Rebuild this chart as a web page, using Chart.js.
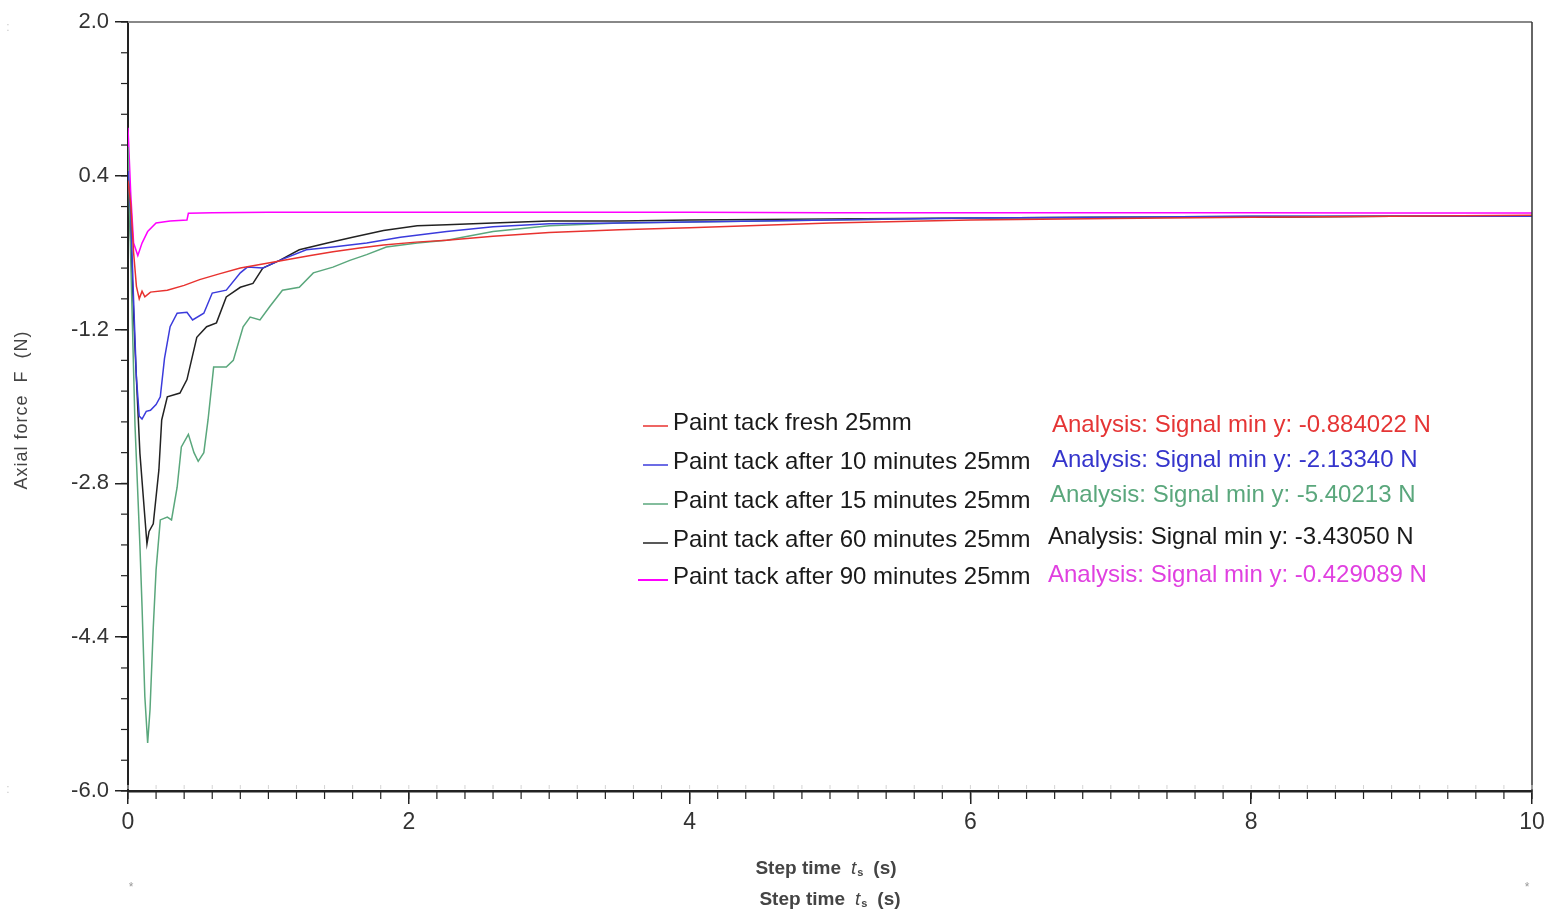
<!DOCTYPE html>
<html>
<head>
<meta charset="utf-8">
<script src="https://cdn.jsdelivr.net/npm/chart.js@4.4.1/dist/chart.umd.min.js"></script>
<style>
html,body{margin:0;padding:0;background:#fff;}
#wrap{width:1558px;height:913px;}
</style>
</head>
<body>
<div id="wrap"><canvas id="c" width="1558" height="913"></canvas></div>
<script>
// ---- data ----
const seriesLabels = [
  'Paint tack fresh 25mm',
  'Paint tack after 10 minutes 25mm',
  'Paint tack after 15 minutes 25mm',
  'Paint tack after 60 minutes 25mm',
  'Paint tack after 90 minutes 25mm'
];
const analysisLabels = [
  'Analysis: Signal min y: -0.884022 N',
  'Analysis: Signal min y: -2.13340 N',
  'Analysis: Signal min y: -5.40213 N',
  'Analysis: Signal min y: -3.43050 N',
  'Analysis: Signal min y: -0.429089 N'
];

const timeFresh  = [0, 0.02, 0.04, 0.06, 0.08, 0.1, 0.12, 0.16, 0.28, 0.4, 0.51, 0.65, 0.8, 0.95, 1.1, 1.3, 1.46, 1.65, 1.82, 2.05, 2.27, 2.6, 3.0, 3.5, 4.0, 5.0, 6.0, 7.0, 8.0, 9.0, 10.0];
const forceFresh = [0.35, 0.1, -0.4, -0.75, -0.88, -0.8, -0.86, -0.81, -0.79, -0.74, -0.68, -0.62, -0.56, -0.52, -0.48, -0.43, -0.39, -0.35, -0.32, -0.29, -0.27, -0.23, -0.19, -0.16, -0.14, -0.09, -0.06, -0.045, -0.03, -0.02, -0.01];

const time10  = [0, 0.02, 0.04, 0.06, 0.08, 0.1, 0.13, 0.16, 0.2, 0.23, 0.26, 0.3, 0.35, 0.42, 0.46, 0.54, 0.6, 0.7, 0.8, 0.85, 0.96, 1.08, 1.27, 1.46, 1.7, 1.94, 2.27, 2.6, 3.0, 3.5, 4.0, 5.0, 6.0, 7.0, 8.0, 9.0, 10.0];
const force10 = [0.45, 0.0, -0.9, -1.7, -2.1, -2.13, -2.05, -2.04, -1.98, -1.9, -1.5, -1.17, -1.03, -1.02, -1.10, -1.03, -0.82, -0.79, -0.61, -0.55, -0.56, -0.48, -0.37, -0.34, -0.30, -0.24, -0.18, -0.13, -0.10, -0.09, -0.08, -0.06, -0.04, -0.03, -0.02, -0.02, -0.02];

const time15  = [0, 0.02, 0.05, 0.085, 0.1, 0.12, 0.14, 0.157, 0.18, 0.2, 0.23, 0.28, 0.31, 0.35, 0.38, 0.43, 0.47, 0.5, 0.54, 0.57, 0.61, 0.7, 0.75, 0.82, 0.87, 0.94, 1.01, 1.1, 1.22, 1.32, 1.46, 1.58, 1.7, 1.84, 2.06, 2.27, 2.6, 3.0, 3.5, 4.0, 5.0, 6.0, 7.0, 8.0, 9.0, 10.0];
const force15 = [0.7, -0.5, -2.2, -3.45, -4.08, -5.02, -5.5, -5.15, -4.3, -3.7, -3.18, -3.15, -3.18, -2.84, -2.42, -2.29, -2.48, -2.57, -2.48, -2.14, -1.59, -1.59, -1.52, -1.17, -1.07, -1.10, -0.96, -0.79, -0.76, -0.61, -0.55, -0.48, -0.42, -0.34, -0.30, -0.27, -0.18, -0.12, -0.09, -0.08, -0.06, -0.04, -0.03, -0.02, -0.02, -0.02];

const time60  = [0, 0.02, 0.05, 0.085, 0.12, 0.135, 0.15, 0.18, 0.22, 0.24, 0.28, 0.37, 0.42, 0.49, 0.56, 0.63, 0.7, 0.8, 0.89, 0.96, 1.08, 1.22, 1.42, 1.6, 1.82, 2.06, 2.27, 2.6, 3.0, 3.5, 4.0, 5.0, 6.0, 7.0, 8.0, 9.0, 10.0];
const force60 = [0.4, -0.3, -1.4, -2.49, -3.15, -3.43, -3.3, -3.22, -2.66, -2.14, -1.9, -1.86, -1.72, -1.28, -1.17, -1.13, -0.86, -0.76, -0.72, -0.56, -0.48, -0.37, -0.30, -0.24, -0.17, -0.12, -0.11, -0.09, -0.07, -0.07, -0.06, -0.05, -0.04, -0.03, -0.03, -0.02, -0.02];

const time90  = [0, 0.02, 0.04, 0.07, 0.1, 0.14, 0.2, 0.3, 0.42, 0.43, 0.6, 1, 2, 3, 4, 5, 6, 7, 8, 9, 10];
const force90 = [0.9, 0.2, -0.3, -0.43, -0.3, -0.18, -0.09, -0.07, -0.06, 0.01, 0.015, 0.02, 0.02, 0.02, 0.02, 0.015, 0.015, 0.015, 0.015, 0.012, 0.012];

const yTickValues = [-6.0, -4.4, -2.8, -1.2, 0.4, 2.0];
const xTickValues = [0, 2, 4, 6, 8, 10];

// ---- styles ----
const lineColors = ['#e8322f', '#3b3bdc', '#5aa77c', '#222222', '#ff00ff'];
const textColors = ['#e53535', '#3535cc', '#5aa77c', '#1a1a1a', '#e040e0'];
const FONT = '"Liberation Sans", Arial, sans-serif';

function pts(t, f){ return t.map((v,i)=>({x:v, y:f[i]})); }
const seriesData = [
  pts(timeFresh, forceFresh),
  pts(time10, force10),
  pts(time15, force15),
  pts(time60, force60),
  pts(time90, force90)
];

function drawXTitle(ctx, cx, cy){
  // "Step time t_s (s)" with italic t and subscript s
  const parts = [
    {t:'Step time', f:'bold 19px ' + FONT, dy:0, gap:10},
    {t:'t', f:'italic 19px ' + FONT, dy:0, gap:1},
    {t:'s', f:'bold 11px ' + FONT, dy:4, gap:10},
    {t:'(s)', f:'bold 19px ' + FONT, dy:0, gap:0}
  ];
  let total = 0;
  parts.forEach(p => { ctx.font = p.f; p.w = ctx.measureText(p.t).width; total += p.w + p.gap; });
  let x = cx - total/2;
  ctx.textAlign = 'left';
  parts.forEach(p => { ctx.font = p.f; ctx.fillText(p.t, x, cy + p.dy); x += p.w + p.gap; });
}

const decorPlugin = {
  id: 'decor',
  afterDraw(chart){
    const ctx = chart.ctx;
    const a = chart.chartArea;
    const xs = chart.scales.x, ys = chart.scales.y;
    ctx.save();
    // frame
    ctx.strokeStyle = '#888'; ctx.lineWidth = 2;
    ctx.beginPath(); ctx.moveTo(a.left, a.top); ctx.lineTo(a.right, a.top); ctx.stroke();
    ctx.strokeStyle = '#333'; ctx.lineWidth = 1.5;
    ctx.beginPath(); ctx.moveTo(a.right, a.top); ctx.lineTo(a.right, a.bottom); ctx.stroke();
    // minor ticks
    ctx.strokeStyle = '#222'; ctx.lineWidth = 1.2;
    for (let i = 0; i <= 25; i++){
      const y = ys.getPixelForValue(-6 + i*0.32);
      ctx.beginPath(); ctx.moveTo(a.left - 7, y); ctx.lineTo(a.left, y); ctx.stroke();
    }
    for (let i = 0; i <= 50; i++){
      const x = xs.getPixelForValue(i*0.2);
      ctx.beginPath(); ctx.moveTo(x, a.bottom); ctx.lineTo(x, a.bottom + 8); ctx.stroke();
    }
    ctx.strokeStyle = '#d4d4d4'; ctx.lineWidth = 1;
    for (let i = 0; i <= 50; i++){
      const x = xs.getPixelForValue(i*0.2);
      ctx.beginPath(); ctx.moveTo(x, a.bottom - 6); ctx.lineTo(x, a.bottom - 2); ctx.stroke();
    }
    // legend
    ctx.textBaseline = 'middle';
    const legY = [423, 462, 501, 540, 577];
    const anaY = [425, 460, 495, 537, 575];
    const anaX = [1052, 1052, 1050, 1048, 1048];
    ctx.font = '24px ' + FONT;
    for (let i = 0; i < seriesLabels.length; i++){
      ctx.strokeStyle = lineColors[i]; ctx.lineWidth = i === 4 ? 2 : 1.5;
      ctx.beginPath(); ctx.moveTo(i === 4 ? 638 : 643, legY[i] + 3); ctx.lineTo(668, legY[i] + 3); ctx.stroke();
      ctx.fillStyle = '#1a1a1a';
      ctx.textAlign = 'left';
      ctx.fillText(chart.data.datasets[i].label, 673, legY[i]);
      ctx.fillStyle = textColors[i];
      ctx.fillText(analysisLabels[i], anaX[i], anaY[i]);
    }
    // axis titles
    ctx.fillStyle = '#444';
    drawXTitle(ctx, 826, 869);
    drawXTitle(ctx, 830, 900);
    ctx.save();
    ctx.translate(22, 410);
    ctx.rotate(-Math.PI/2);
    ctx.textAlign = 'center';
    ctx.font = '18px ' + FONT;
    try { ctx.letterSpacing = '1px'; } catch(e) {}
    ctx.fillText('Axial force  F  (N)', 0, 0);
    ctx.restore();
    // small marks
    ctx.fillStyle = '#999';
    ctx.textAlign = 'center';
    ctx.font = '12px ' + FONT;
    ctx.fillText('*', 131, 888);
    ctx.fillText('*', 1527, 888);
    ctx.fillStyle = '#ccc';
    ctx.fillText(':', 8, 28);
    ctx.fillText(':', 8, 790);
    ctx.restore();
  }
};

new Chart(document.getElementById('c'), {
  type: 'line',
  data: {
    datasets: seriesLabels.map((lab, i) => ({
      label: lab,
      data: seriesData[i],
      borderColor: lineColors[i],
      borderWidth: 1.5,
      pointRadius: 0,
      tension: 0,
      fill: false
    }))
  },
  options: {
    responsive: false,
    animation: false,
    devicePixelRatio: 1,
    layout: { padding: { top: 22, right: 26, left: 0, bottom: 0 } },
    plugins: { legend: { display: false }, tooltip: { enabled: false } },
    scales: {
      x: {
        type: 'linear', min: 0, max: 10,
        afterBuildTicks(s){ s.ticks = xTickValues.map(v => ({value: v})); },
        afterFit(s){ s.height = 122; },
        ticks: { color: '#333', font: { size: 23, family: FONT }, padding: 5, maxRotation: 0,
                 callback: v => String(v) },
        grid: { display: true, drawOnChartArea: false, drawTicks: true, tickLength: 13, color: '#222', lineWidth: 1.5 },
        border: { display: true, color: '#222', width: 2.5 }
      },
      y: {
        type: 'linear', min: -6, max: 2,
        afterBuildTicks(s){ s.ticks = yTickValues.map(v => ({value: v})); },
        afterFit(s){ s.width = 128; },
        ticks: { color: '#333', font: { size: 22, family: FONT }, padding: 6,
                 callback: v => Number(v).toFixed(1) },
        grid: { display: true, drawOnChartArea: false, drawTicks: true, tickLength: 13, color: '#222', lineWidth: 1.5 },
        border: { display: true, color: '#222', width: 2 }
      }
    }
  },
  plugins: [decorPlugin]
});
</script>
</body>
</html>
